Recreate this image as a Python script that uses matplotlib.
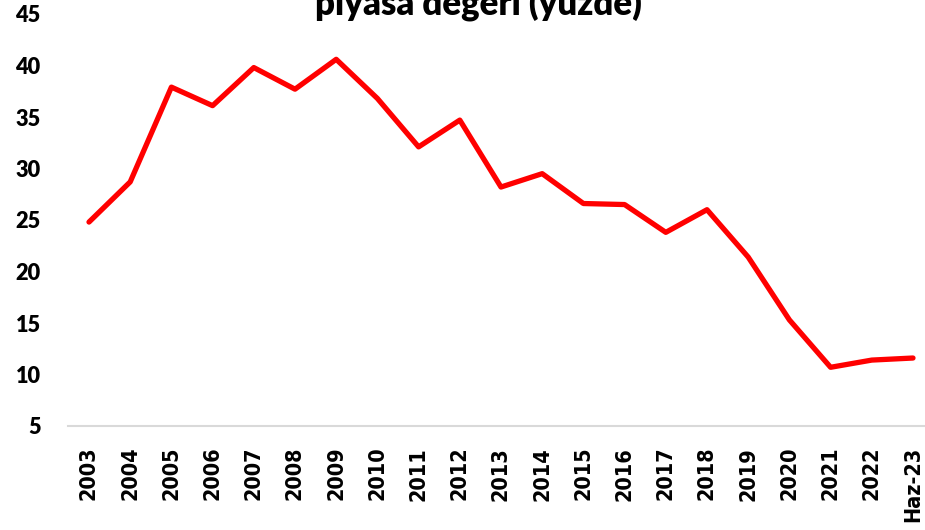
import matplotlib
matplotlib.use("Agg")
import matplotlib.pyplot as plt

categories = ["2003", "2004", "2005", "2006", "2007", "2008", "2009", "2010",
              "2011", "2012", "2013", "2014", "2015", "2016", "2017", "2018",
              "2019", "2020", "2021", "2022", "Haz-23"]
values = [24.8, 28.7, 37.9, 36.1, 39.8, 37.7, 40.6, 36.8, 32.1, 34.7, 28.2,
          29.5, 26.6, 26.5, 23.8, 26.0, 21.4, 15.3, 10.7, 11.4, 11.6]
yticks = [5, 10, 15, 20, 25, 30, 35, 40, 45]
title = "piyasa değeri (yüzde)"

W, H = 925, 530
fig = plt.figure(figsize=(W / 100, H / 100), dpi=100)
left, right = 68.4 / W, 933.6 / W
bottom, top = (H - 426) / H, (H - 14) / H
ax = fig.add_axes([left, bottom, right - left, top - bottom])

x = list(range(len(categories)))
ax.plot(x, values, color="#FF0000", lw=3.8, solid_capstyle="round",
        solid_joinstyle="round", clip_on=False)

ax.set_xlim(-0.5, len(categories) - 0.5)
ax.set_ylim(5, 45)
ax.set_yticks(yticks)
ax.set_yticklabels([str(t) for t in yticks], fontfamily="Lato",
                   fontweight="heavy", fontsize=15.7)
ax.set_xticks(x)
ax.set_xticklabels(categories, rotation=90, fontfamily="DejaVu Sans",
                   fontstretch="condensed", fontweight="bold", fontsize=15.5)
ax.tick_params(axis="y", length=0, pad=20)
ax.tick_params(axis="x", length=0, pad=15)

for s in ["top", "right", "left"]:
    ax.spines[s].set_visible(False)
ax.spines["bottom"].set_color("#D9D9D9")
ax.spines["bottom"].set_linewidth(1.5)

fig.text(478 / W, (H - 15) / H, title, ha="center", va="baseline",
         fontfamily="Lato", fontweight="heavy", fontsize=25)

fig.savefig("out.png", dpi=100)
